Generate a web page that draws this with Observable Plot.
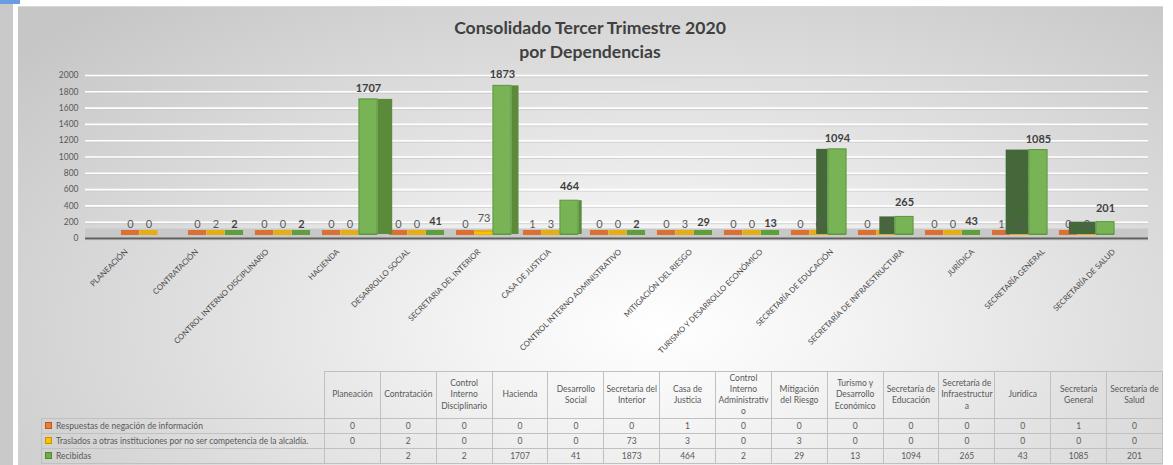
<!DOCTYPE html>
<html>
<head>
<meta charset="utf-8">
<script src="https://cdn.jsdelivr.net/npm/d3@7"></script>
<script src="https://cdn.jsdelivr.net/npm/@observablehq/plot@0.6"></script>
<style>
  body { margin: 0; background: #ffffff; font-family: Lato, "Open Sans", sans-serif; }
  #wrap { position: relative; width: 1173px; height: 465px; overflow: hidden; background: #ffffff; }
  #leftstrip { position: absolute; left: 0; top: 0; width: 13px; height: 465px; background: #c9c9c9; }
  #blue { position: absolute; left: 0; top: 0; width: 20px; height: 4px; background: #6b9be0; }
  #area { position: absolute; left: 18px; top: 6px; width: 1145px; height: 459px;
          border-top: 1px solid #d8d8d8;
          background: radial-gradient(ellipse 72% 95% at 56% 70%, #ffffff 0%, #f4f4f4 22%, #dedede 58%, #c6c6c6 100%); }
  #title { position: absolute; left: 390px; top: 16px; width: 400px; text-align: center;
           font-weight: bold; font-size: 17.6px; line-height: 24px; color: #404040; }
  #chart { position: absolute; left: 0; top: 0; }
  table { position: absolute; left: 41px; top: 371px; border-collapse: collapse; table-layout: fixed;
          font-size: 8.5px; color: #595959; font-family: Lato, sans-serif; }
  th, td { border: 1px solid #c0c0c0; padding: 0; text-align: center; font-weight: normal; overflow: hidden; }
  th { height: 46px; white-space: pre-line; line-height: 11.2px; }
  th.blank { border-top: none; border-left: none; }
  td { height: 14px; line-height: 13px; }
  td.lab { text-align: left; padding-left: 3px; white-space: nowrap; }
  .sw { display: inline-block; width: 5px; height: 5px; margin-right: 4px; vertical-align: -0.5px; border: 1px solid; }
</style>
</head>
<body>
<div id="wrap">
  <div id="leftstrip"></div>
  <div id="blue"></div>
  <div id="area"></div>
  <div id="title">Consolidado Tercer Trimestre 2020<br>por Dependencias</div>
  <div id="chart"></div>
</div>
<script>
// ---------- data ----------
const categories = ["PLANEACIÓN", "CONTRATACIÓN", "CONTROL INTERNO DISCIPLINARIO", "HACIENDA", "DESARROLLO SOCIAL",
  "SECRETARIA DEL INTERIOR", "CASA DE JUSTICIA", "CONTROL INTERNO ADMINISTRATIVO", "MITIGACIÓN DEL RIESGO",
  "TURISMO Y DESARROLLO ECONÓMICO", "SECRETARÍA DE EDUCACIÓN", "SECRETARÍA DE INFRAESTRUCTURA", "JURÍDICA",
  "SECRETARÍA GENERAL", "SECRETARÍA DE SALUD"];
const tableHeaders = ["Planeación", "Contratación", "Control\nInterno\nDisciplinario", "Hacienda", "Desarrollo\nSocial",
  "Secretaria del\nInterior", "Casa de\nJusticia", "Control\nInterno\nAdministrativ\no", "Mitigación\ndel Riesgo",
  "Turismo y\nDesarrollo\nEconómico", "Secretaría de\nEducación", "Secretaría de\nInfraestructur\na", "Jurídica",
  "Secretaría\nGeneral", "Secretaría de\nSalud"];
const respuestas = [0, 0, 0, 0, 0, 0, 1, 0, 0, 0, 0, 0, 0, 1, 0];
const traslados  = [0, 2, 0, 0, 0, 73, 3, 0, 3, 0, 0, 0, 0, 0, 0];
const recibidas  = [null, 2, 2, 1707, 41, 1873, 464, 2, 29, 13, 1094, 265, 43, 1085, 201];
const seriesNames = ["Respuestas de negación de información",
  "Traslados a otras instituciones por no ser competencia de la alcaldía.", "Recibidas"];
const seriesColors = ["#ed7d31", "#ffc000", "#70ad47"];
const seriesBorders = ["#c0561a", "#c89400", "#4e8a2c"];
const yTicks = d3.range(0, 2001, 200);

// ---------- layout constants (styles) ----------
const rows = categories.map((cat, i) => ({cat, i, resp: respuestas[i], tras: traslados[i], rec: recibidas[i]}));
const X0 = 112.3, X1 = 1122.7, n = categories.length, step = (X1 - X0) / n, vp = 632, bw = 18.5;
const ins = o => ({insetLeft: step / 2 + o - bw / 2, insetRight: step / 2 - o - bw / 2});
const center = i => X0 + step * (i + 0.5);
const fmt = v => String(v);

const marks = [
  Plot.gridY(yTicks, {stroke: "#c9c9c9", strokeOpacity: 0.7, strokeWidth: 1, dy: 1.5}),
  Plot.gridY(yTicks, {stroke: "#ffffff", strokeOpacity: 1, strokeWidth: 1.6}),
  Plot.axisY(yTicks, {tickSize: 0, tickPadding: 7, fontSize: 8.5, fill: "#595959", label: null, tickFormat: fmt}),
  Plot.ruleY([0], {stroke: "#c8c8c8", strokeWidth: 10, dy: -5}),
  Plot.tickY(rows, {x: "cat", y: d => 0, ...ins(-bw), stroke: "#dc7032", strokeWidth: 5, dy: -6}),
  Plot.tickY(rows, {x: "cat", y: d => 0, ...ins(0), stroke: "#e6ae14", strokeWidth: 5, dy: -6}),
  Plot.tickY(rows.filter(d => d.rec != null), {x: "cat", y: d => 0, ...ins(bw), stroke: "#5e9e3c", strokeWidth: 5, dy: -6}),
  Plot.barY(rows, {x: "cat", y: "resp", ...ins(-bw), fill: seriesColors[0], insetBottom: 4}),
  Plot.barY(rows, {x: "cat", y: "tras", ...ins(0), fill: seriesColors[1], insetBottom: 4})
];
// perspective side faces of the green bars
categories.forEach((c, i) => {
  if (recibidas[i] == null) return;
  const g = center(i) + bw;
  const s = (vp - g) * 0.057;
  const w = Math.abs(s);
  if (w < 0.5) return;
  const o = s > 0 ? 1.5 * bw + s / 2 : bw / 2 + s / 2;
  marks.push(Plot.barY(rows.filter(d => d.i === i), {x: "cat", y: "rec",
    insetLeft: (step - w) / 2, insetRight: (step - w) / 2, dx: o, insetBottom: 4,
    fill: s > 0 ? "#5a8a3a" : "#45683a"}));
});
marks.push(
  Plot.barY(rows, {x: "cat", y: "rec", ...ins(bw), fill: "#78b455", stroke: "#5a963c", strokeWidth: 1, insetBottom: 4}),
  Plot.ruleY([0], {stroke: "#606060", strokeWidth: 2}),
  Plot.text(rows, {x: "cat", y: "resp", text: d => fmt(d.resp), dx: -bw, dy: -14, fontSize: 11, fill: "#595959"}),
  Plot.text(rows, {x: "cat", y: "tras", text: d => fmt(d.tras), dx: 0, dy: -14, fontSize: 11, fill: "#595959"}),
  Plot.text(rows.filter(d => d.rec != null && d.rec < 1000), {x: "cat", y: "rec", text: d => fmt(d.rec), dx: bw, dy: -14,
    fontSize: 11, fontWeight: "bold", fill: "#404040"}),
  Plot.text(rows.filter(d => d.rec != null && d.rec >= 1000), {x: "cat", y: "rec", text: d => fmt(d.rec), dx: bw, dy: -11,
    fontSize: 11, fontWeight: "bold", fill: "#404040"})
);
// category labels on the front edge of the floor
categories.forEach((c, i) => {
  marks.push(Plot.text([c], {x: d => d, y: d => 0, text: d => d, rotate: -45, textAnchor: "end",
    dx: (center(i) - vp) * 0.0526 + 3, dy: 12, fontSize: 7.8, fill: "#4a4a4a"}));
});

const chart = Plot.plot({
  width: 1173,
  height: 365,
  marginLeft: 85,
  marginRight: 25,
  marginTop: 60,
  marginBottom: 127,
  style: {background: "transparent", fontFamily: "Lato, sans-serif", overflow: "visible"},
  x: {type: "band", domain: categories, range: [X0, X1], padding: 0, axis: null},
  y: {domain: [0, 2000], range: [238, 75], axis: null},
  marks
});
document.getElementById("chart").appendChild(chart);

// ---------- data table ----------
const table = document.createElement("table");
const cg = document.createElement("colgroup");
[283, ...tableHeaders.map(() => 55.87)].forEach(w => {
  const col = document.createElement("col"); col.style.width = w + "px"; cg.appendChild(col);
});
table.appendChild(cg);
const hr = document.createElement("tr");
const blank = document.createElement("th"); blank.className = "blank"; hr.appendChild(blank);
tableHeaders.forEach(h => { const th = document.createElement("th"); th.textContent = h; hr.appendChild(th); });
table.appendChild(hr);
[respuestas, traslados, recibidas].forEach((vals, k) => {
  const tr = document.createElement("tr");
  const lab = document.createElement("td"); lab.className = "lab";
  const sw = document.createElement("span"); sw.className = "sw";
  sw.style.background = seriesColors[k]; sw.style.borderColor = seriesBorders[k];
  lab.appendChild(sw); lab.appendChild(document.createTextNode(seriesNames[k]));
  tr.appendChild(lab);
  vals.forEach(v => { const td = document.createElement("td"); td.textContent = v == null ? "" : v; tr.appendChild(td); });
  table.appendChild(tr);
});
document.getElementById("wrap").appendChild(table);
</script>
</body>
</html>
